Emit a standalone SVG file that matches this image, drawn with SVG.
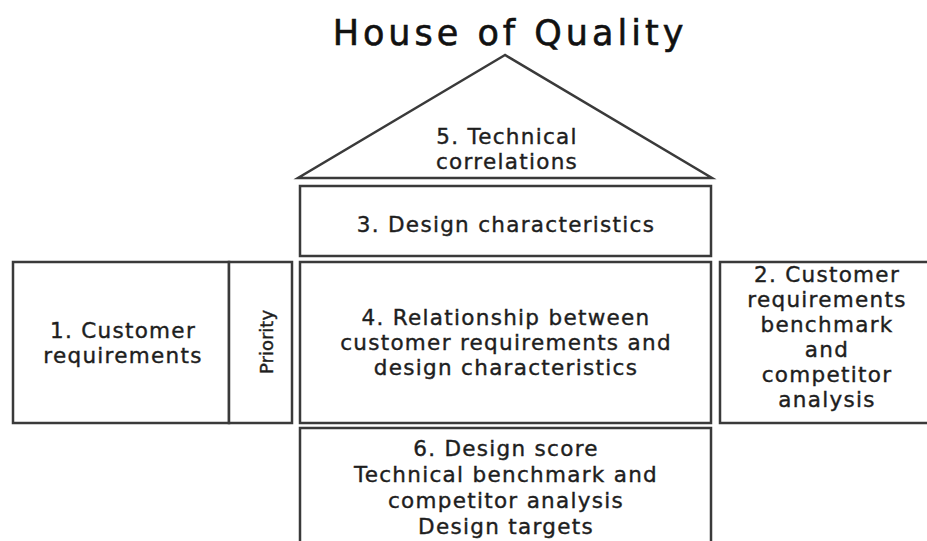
<svg xmlns="http://www.w3.org/2000/svg" width="927" height="541" viewBox="0 0 927 541">
<style>
.b{fill:#fff;stroke:#3a3a3a;stroke-width:2.5}
.t{font-family:"DejaVu Sans","Liberation Sans",sans-serif;font-size:21.5px;fill:#1e1e1e;stroke:#1e1e1e;stroke-width:0.4px;text-anchor:middle;letter-spacing:1.3px}
.p{font-family:"DejaVu Sans","Liberation Sans",sans-serif;font-size:18px;fill:#1e1e1e;stroke:#1e1e1e;stroke-width:0.4px;text-anchor:middle}
.h{font-family:"DejaVu Sans","Liberation Sans",sans-serif;font-size:35px;fill:#111;stroke:#111;stroke-width:0.6px;text-anchor:middle;letter-spacing:4px}
</style>
<rect width="927" height="541" fill="#fff"/>
<text class="h" x="510" y="45">House of Quality</text>
<g id="roof">
<polygon class="b" points="505,55 298,178 712,178"/>
<text class="t" x="507" y="144">5. Technical</text>
<text class="t" x="507" y="169">correlations</text>
</g>
<g id="design-characteristics">
<rect class="b" x="300" y="186" width="411" height="70"/>
<text class="t" x="506" y="232">3. Design characteristics</text>
</g>
<g id="customer-requirements">
<rect class="b" x="13" y="262" width="216" height="161"/>
<text class="t" x="123" y="338">1. Customer</text>
<text class="t" x="123" y="363">requirements</text>
</g>
<g id="priority">
<rect class="b" x="229" y="262" width="63" height="161"/>
<text class="p" transform="translate(273,342) rotate(-90)" x="0" y="0">Priority</text>
</g>
<g id="relationship">
<rect class="b" x="300" y="262" width="411" height="161"/>
<text class="t" x="506" y="325">4. Relationship between</text>
<text class="t" x="506" y="350">customer requirements and</text>
<text class="t" x="506" y="375">design characteristics</text>
</g>
<g id="benchmark">
<rect class="b" x="720" y="262" width="215" height="161"/>
<text class="t" x="827" y="282">2. Customer</text>
<text class="t" x="827" y="307">requirements</text>
<text class="t" x="827" y="332">benchmark</text>
<text class="t" x="827" y="357">and</text>
<text class="t" x="827" y="382">competitor</text>
<text class="t" x="827" y="407">analysis</text>
</g>
<g id="design-score">
<rect class="b" x="300" y="428" width="411" height="115"/>
<text class="t" x="506" y="456">6. Design score</text>
<text class="t" x="506" y="482">Technical benchmark and</text>
<text class="t" x="506" y="508">competitor analysis</text>
<text class="t" x="506" y="534">Design targets</text>
</g>
<g id="connectors"></g>
</svg>
